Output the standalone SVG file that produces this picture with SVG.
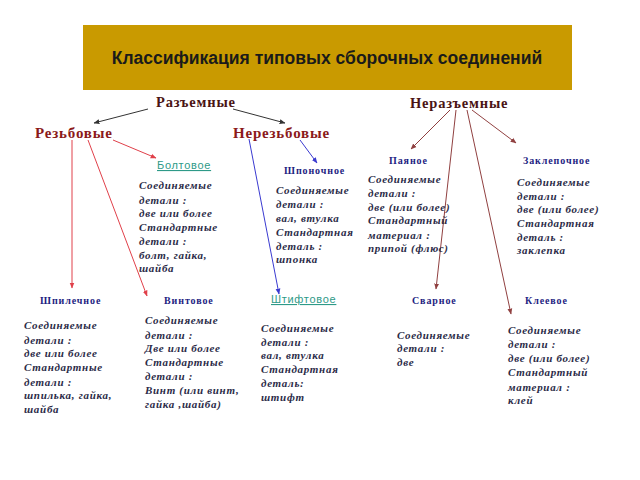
<svg xmlns="http://www.w3.org/2000/svg" width="640" height="480" viewBox="0 0 640 480">
<style>
.title{font-family:"Liberation Sans",Arial,sans-serif;font-weight:bold;font-size:17.5px;fill:#1a1a1a}
.top{font-family:"Liberation Serif","Times New Roman",serif;font-weight:bold;font-size:14.5px;fill:#4a1414;letter-spacing:0.8px}
.sub{font-family:"Liberation Serif","Times New Roman",serif;font-weight:bold;font-size:15px;fill:#8b1a1a;letter-spacing:0.8px}
.hd{font-family:"Liberation Serif","Times New Roman",serif;font-weight:bold;font-size:10px;fill:#1e1e82;letter-spacing:0.9px}
.link{font-family:"Liberation Sans",Arial,sans-serif;font-size:11px;fill:#2e9a88;letter-spacing:0.7px;text-decoration:underline}
.dt{font-family:"Liberation Serif","Times New Roman",serif;font-weight:bold;font-style:italic;font-size:11px;fill:#2b2b48;letter-spacing:0.7px}
.gray{stroke:#333;stroke-width:1;fill:none}
.red{stroke:#e0404a;stroke-width:1;fill:none}
.blue{stroke:#3a3ad0;stroke-width:1;fill:none}
.brown{stroke:#904040;stroke-width:1;fill:none}
</style>
<defs>
<marker id="aGray" viewBox="0 0 10 10" refX="9" refY="5" markerWidth="6" markerHeight="6" orient="auto"><path d="M0,1 L10,5 L0,9 z" fill="#333"/></marker>
<marker id="aRed" viewBox="0 0 10 10" refX="9" refY="5" markerWidth="6" markerHeight="6" orient="auto"><path d="M0,1 L10,5 L0,9 z" fill="#e0404a"/></marker>
<marker id="aBlue" viewBox="0 0 10 10" refX="9" refY="5" markerWidth="6" markerHeight="6" orient="auto"><path d="M0,1 L10,5 L0,9 z" fill="#3a3ad0"/></marker>
<marker id="aBrown" viewBox="0 0 10 10" refX="9" refY="5" markerWidth="6" markerHeight="6" orient="auto"><path d="M0,1 L10,5 L0,9 z" fill="#904040"/></marker>
</defs>
<rect width="640" height="480" fill="#ffffff"/>

<g id="title">
<rect x="83" y="25" width="489" height="65" fill="#c99a00"/>
<text class="title" x="327" y="64" text-anchor="middle">Классификация типовых сборочных соединений</text>
</g>

<g id="connectors">
<line class="gray" x1="148" y1="109" x2="94" y2="123" marker-end="url(#aGray)"/>
<line class="gray" x1="233" y1="109" x2="285" y2="123" marker-end="url(#aGray)"/>
<line class="red" x1="113" y1="140" x2="156" y2="158" marker-end="url(#aRed)"/>
<line class="red" x1="72" y1="140" x2="72" y2="288" marker-end="url(#aRed)"/>
<line class="red" x1="88" y1="140" x2="147" y2="296" marker-end="url(#aRed)"/>
<line class="blue" x1="300" y1="140" x2="317" y2="163" marker-end="url(#aBlue)"/>
<line class="blue" x1="249" y1="139" x2="279" y2="294" marker-end="url(#aBlue)"/>
<line class="brown" x1="450" y1="110" x2="411" y2="149" marker-end="url(#aBrown)"/>
<line class="brown" x1="472" y1="110" x2="516" y2="143" marker-end="url(#aBrown)"/>
<line class="brown" x1="456" y1="110" x2="436" y2="289" marker-end="url(#aBrown)"/>
<line class="brown" x1="467" y1="110" x2="511" y2="314" marker-end="url(#aBrown)"/>
</g>

<g id="razemnye"><text class="top" x="156" y="107">Разъемные</text></g>
<g id="nerazemnye"><text class="top" x="410" y="108">Неразъемные</text></g>
<g id="rezbovye"><text class="sub" x="35" y="138">Резьбовые</text></g>
<g id="nerezbovye"><text class="sub" x="233" y="138">Нерезьбовые</text></g>

<g id="boltovoe">
<text class="link" x="157" y="169">Болтовое</text>
<text class="dt">
<tspan x="139" y="189">Соединяемые</tspan>
<tspan x="139" y="204">детали :</tspan>
<tspan x="139" y="217">две или более</tspan>
<tspan x="139" y="231">Стандартные</tspan>
<tspan x="139" y="245">детали :</tspan>
<tspan x="139" y="259">болт, гайка,</tspan>
<tspan x="139" y="272">шайба</tspan>
</text>
</g>

<g id="shponochnoe">
<text class="hd" x="284" y="174">Шпоночное</text>
<text class="dt">
<tspan x="276" y="194">Соединяемые</tspan>
<tspan x="276" y="208">детали :</tspan>
<tspan x="276" y="222">вал, втулка</tspan>
<tspan x="276" y="236">Стандартная</tspan>
<tspan x="276" y="250">деталь :</tspan>
<tspan x="276" y="263">шпонка</tspan>
</text>
</g>

<g id="payanoe">
<text class="hd" x="389" y="164">Паяное</text>
<text class="dt">
<tspan x="368" y="183">Соединяемые</tspan>
<tspan x="368" y="197">детали :</tspan>
<tspan x="368" y="211">две (или более)</tspan>
<tspan x="368" y="224">Стандартный</tspan>
<tspan x="368" y="239">материал :</tspan>
<tspan x="368" y="252">припой (флюс)</tspan>
</text>
</g>

<g id="zaklepochnoe">
<text class="hd" x="523" y="164">Заклепочное</text>
<text class="dt">
<tspan x="517" y="186">Соединяемые</tspan>
<tspan x="517" y="200">детали :</tspan>
<tspan x="517" y="213">две (или более)</tspan>
<tspan x="517" y="227">Стандартная</tspan>
<tspan x="517" y="241">деталь :</tspan>
<tspan x="517" y="254">заклепка</tspan>
</text>
</g>

<g id="shpilechnoe">
<text class="hd" x="40" y="304">Шпилечное</text>
<text class="dt">
<tspan x="24" y="329">Соединяемые</tspan>
<tspan x="24" y="344">детали :</tspan>
<tspan x="24" y="357">две или более</tspan>
<tspan x="24" y="371">Стандартные</tspan>
<tspan x="24" y="386">детали :</tspan>
<tspan x="24" y="399">шпилька, гайка,</tspan>
<tspan x="24" y="413">шайба</tspan>
</text>
</g>

<g id="vintovoe">
<text class="hd" x="164" y="304">Винтовое</text>
<text class="dt">
<tspan x="145" y="324">Соединяемые</tspan>
<tspan x="145" y="339">детали :</tspan>
<tspan x="145" y="352">Две или более</tspan>
<tspan x="145" y="366">Стандартные</tspan>
<tspan x="145" y="380">детали :</tspan>
<tspan x="145" y="394">Винт (или винт,</tspan>
<tspan x="145" y="408">гайка ,шайба)</tspan>
</text>
</g>

<g id="shtiftovoe">
<text class="link" x="271" y="303">Штифтовое</text>
<text class="dt">
<tspan x="261" y="332">Соединяемые</tspan>
<tspan x="261" y="346">детали :</tspan>
<tspan x="261" y="359">вал, втулка</tspan>
<tspan x="261" y="373">Стандартная</tspan>
<tspan x="261" y="387">деталь:</tspan>
<tspan x="261" y="401">штифт</tspan>
</text>
</g>

<g id="svarnoe">
<text class="hd" x="412" y="304">Сварное</text>
<text class="dt">
<tspan x="397" y="339">Соединяемые</tspan>
<tspan x="397" y="352">детали :</tspan>
<tspan x="397" y="366">две</tspan>
</text>
</g>

<g id="kleevoe">
<text class="hd" x="525" y="304">Клеевое</text>
<text class="dt">
<tspan x="508" y="334">Соединяемые</tspan>
<tspan x="508" y="348">детали :</tspan>
<tspan x="508" y="362">две (или более)</tspan>
<tspan x="508" y="376">Стандартный</tspan>
<tspan x="508" y="391">материал :</tspan>
<tspan x="508" y="404">клей</tspan>
</text>
</g>
</svg>
